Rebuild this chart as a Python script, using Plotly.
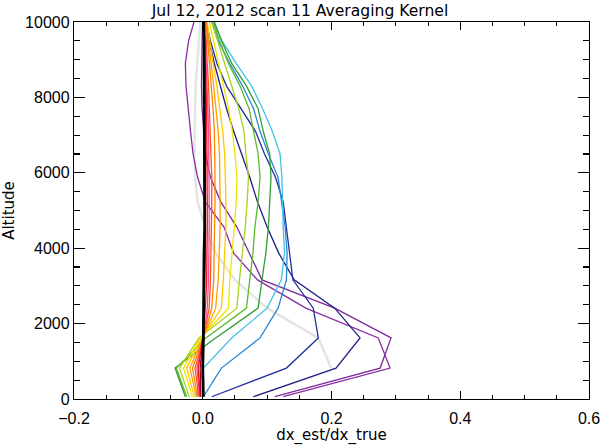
import plotly.graph_objects as go

# Altitude grid (m)
altitude = [60, 820, 1620, 2410, 3160, 3870, 4560, 5230, 5880, 6500, 7100, 7700, 8300, 8900, 9500, 10100, 10700]

# Averaging kernel rows (dx_est/dx_true)
purple_a = [0.112, 0.2755, 0.2925, 0.205, 0.092, 0.072, 0.053, 0.028, 0.012, 0.004, 0.001, -0.001, -0.002, -0.002, -0.001, 0.0, 0.0]
purple_b = [0.125, 0.291, 0.2727, 0.160, 0.085, 0.048, 0.033, 0.004, -0.008, -0.015, -0.019, -0.023, -0.026, -0.027, -0.022, -0.012, -0.006]
navy_c = [0.0785, 0.207, 0.2443, 0.205, 0.142, 0.118, 0.100, 0.085, 0.073, 0.060, 0.048, 0.037, 0.027, 0.018, 0.010, 0.004, 0.001]
navy_d = [0.0139, 0.130, 0.1795, 0.1717, 0.140, 0.135, 0.130, 0.125, 0.113, 0.096, 0.082, 0.060, 0.037, 0.022, 0.012, 0.004, 0.001]
gray_1 = [None, 0.1995, 0.1795, 0.100, 0.050, 0.020, 0.004, -0.008, -0.012, -0.013, -0.013, -0.012, -0.011, -0.009, -0.006, -0.003, -0.001]
blue_1 = [0.001, 0.029, 0.089, 0.117, 0.130, 0.131, 0.128, 0.122, 0.117, 0.102, 0.089, 0.079, 0.062, 0.042, 0.024, 0.012, 0.006]
cyan_1 = [-0.010, 0.001, 0.045, 0.100, 0.122, 0.127, 0.125, 0.124, 0.123, 0.120, 0.108, 0.093, 0.076, 0.052, 0.030, 0.014, 0.007]
green_2 = [-0.027, -0.043, 0.020, 0.086, 0.092, 0.098, 0.102, 0.104, 0.106, 0.104, 0.094, 0.086, 0.068, 0.045, 0.029, 0.016, 0.008]
green_1 = [-0.025, -0.041, 0.005, 0.068, 0.073, 0.078, 0.081, 0.086, 0.089, 0.086, 0.079, 0.072, 0.058, 0.040, 0.026, 0.014, 0.007]
yellowgreen = [-0.021, -0.036, -0.006, 0.053, 0.057, 0.062, 0.066, 0.069, 0.071, 0.067, 0.064, 0.056, 0.045, 0.033, 0.022, 0.012, 0.006]
yellow = [-0.016, -0.030, -0.004, 0.040, 0.042, 0.046, 0.049, 0.052, 0.053, 0.050, 0.046, 0.040, 0.032, 0.024, 0.016, 0.009, 0.004]
gold = [-0.013, -0.025, -0.002, 0.029, 0.032, 0.034, 0.036, 0.036, 0.035, 0.034, 0.031, 0.027, 0.022, 0.016, 0.011, 0.006, 0.003]
orange_2 = [-0.010, -0.020, 0.000, 0.020, 0.024, 0.026, 0.027, 0.027, 0.027, 0.026, 0.024, 0.021, 0.017, 0.013, 0.009, 0.005, 0.003]
orange_1 = [-0.008, -0.016, 0.001, 0.014, 0.017, 0.018, 0.019, 0.019, 0.019, 0.019, 0.018, 0.016, 0.013, 0.010, 0.007, 0.004, 0.002]
orangered = [-0.006, -0.012, 0.001, 0.010, 0.012, 0.013, 0.014, 0.014, 0.014, 0.013, 0.012, 0.011, 0.009, 0.007, 0.005, 0.003, 0.002]
pink = [-0.005, -0.009, 0.001, 0.007, 0.009, 0.010, 0.010, 0.010, 0.010, 0.010, 0.009, 0.008, 0.007, 0.005, 0.004, 0.002, 0.001]
red = [-0.004, -0.007, 0.000, 0.004, 0.006, 0.007, 0.007, 0.007, 0.007, 0.007, 0.007, 0.006, 0.005, 0.004, 0.003, 0.002, 0.001]
darkred = [-0.003, -0.004, 0.000, 0.002, 0.003, 0.004, 0.004, 0.004, 0.004, 0.004, 0.004, 0.004, 0.003, 0.003, 0.002, 0.001, 0.000]
black = [0.001, 0.000, 0.001, 0.001, 0.002, 0.002, 0.003, 0.003, 0.003, 0.003, 0.003, 0.003, 0.003, 0.002, 0.002, 0.001, 0.0]

x_ticks = [-0.2, 0.0, 0.2, 0.4, 0.6]
x_ticklabels = ['\u22120.2', '0.0', '0.2', '0.4', '0.6']
y_ticks = [0, 2000, 4000, 6000, 8000, 10000]
y_ticklabels = ['0', '2000', '4000', '6000', '8000', '10000']

series = [
    (gray_1, '#e4e4e4', 2.5),
    (purple_a, '#7e2a9a', 1.3),
    (purple_b, '#8a2ea6', 1.3),
    (navy_c, '#1f1f86', 1.3),
    (navy_d, '#23309a', 1.3),
    (blue_1, '#2a86d6', 1.3),
    (cyan_1, '#44c2e2', 1.3),
    (green_2, '#2f9e34', 1.3),
    (green_1, '#5cb82c', 1.3),
    (yellowgreen, '#a8d21c', 1.3),
    (yellow, '#f2e400', 1.3),
    (gold, '#ffc800', 1.3),
    (orange_2, '#ffa200', 1.3),
    (orange_1, '#ff8400', 1.3),
    (orangered, '#ff5020', 1.3),
    (pink, '#ff4c90', 1.3),
    (red, '#ee1020', 1.3),
    (darkred, '#a00020', 1.3),
    (black, '#000000', 2.8),
]

fig = go.Figure()
for vals, col, w in series:
    fig.add_trace(go.Scatter(x=vals, y=altitude, mode='lines',
                             line=dict(color=col, width=w), connectgaps=False,
                             hoverinfo='skip', showlegend=False))

tick_font = dict(size=16, color='black', family='Liberation Sans, Arial, sans-serif')
title_font = dict(size=15, color='black', family='DejaVu Sans, sans-serif')
axis_common = dict(showgrid=False, zeroline=False, showline=True, linecolor='black',
                   linewidth=1.2, mirror='ticks', ticks='inside', tickcolor='black',
                   tickwidth=1.2, tickfont=tick_font, automargin=False,
                   ticklabeloverflow='allow')

fig.update_xaxes(range=[-0.2, 0.6], tickvals=x_ticks, ticktext=x_ticklabels, ticklen=8,
                 ticklabelstandoff=5,
                 minor=dict(ticks='inside', dtick=0.05, tick0=0, ticklen=4, tickcolor='black', tickwidth=1.1),
                 title=dict(text='dx_est/dx_true', font=title_font, standoff=4),
                 **axis_common)
fig.update_yaxes(range=[0, 10000], tickvals=y_ticks, ticktext=y_ticklabels, ticklen=11,
                 minor=dict(ticks='inside', dtick=500, tick0=0, ticklen=6, tickcolor='black', tickwidth=1.1),
                 title=dict(text='Altitude', font=title_font, standoff=11),
                 **axis_common)

fig.update_layout(
    width=600, height=445,
    margin=dict(l=74, r=11, t=22, b=46),
    paper_bgcolor='white', plot_bgcolor='white',
    title=dict(text='Jul 12, 2012 scan 11 Averaging Kernel', x=0.5, xanchor='center',
               y=0.988, yanchor='top', font=dict(size=15.6, color='black', family='DejaVu Sans, sans-serif')),
)

fig.write_html('out.html', config={'displayModeBar': False, 'staticPlot': True},
               post_script="document.body.style.margin='0';")
